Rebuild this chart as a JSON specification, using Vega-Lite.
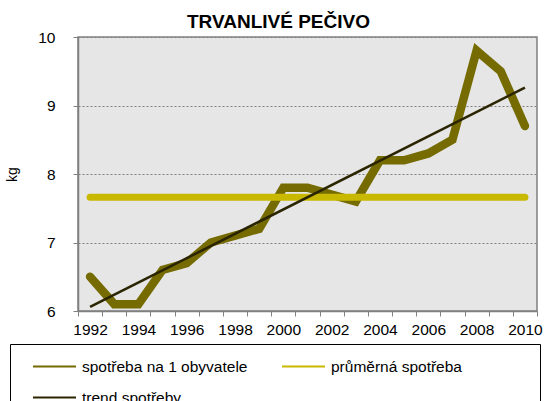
{
  "$schema": "https://vega.github.io/schema/vega-lite/v6.json",
  "width": 459,
  "height": 274,
  "autosize": {"type": "none"},
  "padding": {"left": 78, "top": 37, "right": 9, "bottom": 90},
  "background": "white",
  "config": {
    "font": "Liberation Sans",
    "view": {"fill": "#e6e6e6", "stroke": "#808080", "strokeWidth": 1.5}
  },
  "title": {
    "text": "TRVANLIVÉ PEČIVO",
    "font": "Liberation Sans",
    "fontSize": 19,
    "fontWeight": "bold",
    "color": "#000000",
    "anchor": "middle",
    "dx": -29,
    "offset": 8,
    "dy": 10
  },
  "data": {
    "values": [
      {"year": 1992, "value": 6.5, "series": "spotřeba na 1 obyvatele"},
      {"year": 1993, "value": 6.1, "series": "spotřeba na 1 obyvatele"},
      {"year": 1994, "value": 6.1, "series": "spotřeba na 1 obyvatele"},
      {"year": 1995, "value": 6.6, "series": "spotřeba na 1 obyvatele"},
      {"year": 1996, "value": 6.7, "series": "spotřeba na 1 obyvatele"},
      {"year": 1997, "value": 7.0, "series": "spotřeba na 1 obyvatele"},
      {"year": 1998, "value": 7.1, "series": "spotřeba na 1 obyvatele"},
      {"year": 1999, "value": 7.2, "series": "spotřeba na 1 obyvatele"},
      {"year": 2000, "value": 7.8, "series": "spotřeba na 1 obyvatele"},
      {"year": 2001, "value": 7.8, "series": "spotřeba na 1 obyvatele"},
      {"year": 2002, "value": 7.7, "series": "spotřeba na 1 obyvatele"},
      {"year": 2003, "value": 7.6, "series": "spotřeba na 1 obyvatele"},
      {"year": 2004, "value": 8.2, "series": "spotřeba na 1 obyvatele"},
      {"year": 2005, "value": 8.2, "series": "spotřeba na 1 obyvatele"},
      {"year": 2006, "value": 8.3, "series": "spotřeba na 1 obyvatele"},
      {"year": 2007, "value": 8.5, "series": "spotřeba na 1 obyvatele"},
      {"year": 2008, "value": 9.8, "series": "spotřeba na 1 obyvatele"},
      {"year": 2009, "value": 9.5, "series": "spotřeba na 1 obyvatele"},
      {"year": 2010, "value": 8.7, "series": "spotřeba na 1 obyvatele"},
      {"year": 1992, "value": 7.66, "series": "průměrná spotřeba"},
      {"year": 2010, "value": 7.66, "series": "průměrná spotřeba"},
      {"year": 1992, "value": 6.06, "series": "trend spotřeby"},
      {"year": 2010, "value": 9.26, "series": "trend spotřeby"}
    ]
  },
  "encoding": {
    "x": {
      "field": "year",
      "type": "ordinal",
      "scale": {"paddingInner": 0, "paddingOuter": 0},
      "axis": {
        "title": null,
        "tickBand": "extent",
        "tickSize": 5,
        "tickColor": "#808080",
        "domainColor": "#808080",
        "domainWidth": 1.5,
        "labelAngle": 0,
        "labelOverlap": false,
        "labelFont": "Liberation Sans",
        "labelFontSize": 15.5,
        "labelColor": "#000000",
        "labelPadding": 6,
        "labelExpr": "toNumber(datum.value) % 2 == 0 ? datum.label : ''",
        "grid": false
      }
    },
    "y": {
      "field": "value",
      "type": "quantitative",
      "scale": {"domain": [6, 10], "nice": false, "zero": false},
      "axis": {
        "title": "kg",
        "titleFont": "Liberation Sans",
        "titleFontSize": 14,
        "titleFontWeight": "normal",
        "titleColor": "#000000",
        "titlePadding": 18,
        "values": [6, 7, 8, 9, 10],
        "tickSize": 5,
        "tickColor": "#808080",
        "domainColor": "#808080",
        "domainWidth": 1.5,
        "labelFont": "Liberation Sans",
        "labelFontSize": 15.5,
        "labelColor": "#000000",
        "labelPadding": 18,
        "grid": true,
        "gridColor": "#808080",
        "gridDash": [2, 2],
        "gridWidth": 1
      }
    },
    "color": {
      "field": "series",
      "type": "nominal",
      "scale": {
        "domain": ["spotřeba na 1 obyvatele", "průměrná spotřeba", "trend spotřeby"],
        "range": ["#756b00", "#c9b800", "#2a2400"]
      },
      "legend": {
        "title": null,
        "orient": "none",
        "legendX": -68,
        "legendY": 307,
        "direction": "horizontal",
        "columns": 2,
        "gridAlign": "each",
        "columnPadding": 11,
        "rowPadding": -21,
        "padding": 0,
        "strokeColor": "#000000",
        "fillColor": "#ffffff",
        "symbolType": "stroke",
        "symbolSize": 1849,
        "symbolStrokeWidth": 2,
        "symbolOffset": 22,
        "labelOffset": 5,
        "labelFont": "Liberation Sans",
        "labelFontSize": 15.5,
        "labelColor": "#000000",
        "labelLimit": 400,
        "labelExpr": "datum.label == 'průměrná spotřeba' ? datum.label + '\u00a0\u00a0\u00a0\u00a0\u00a0\u00a0\u00a0\u00a0\u00a0\u00a0\u00a0\u00a0\u00a0\u00a0\u00a0\u00a0\u00a0\u00a0\u200b' : datum.label"
      }
    }
  },
  "layer": [
    {
      "transform": [{"filter": "datum.series == 'spotřeba na 1 obyvatele'"}],
      "mark": {"type": "line", "strokeWidth": 8.5, "strokeCap": "round", "strokeJoin": "miter"}
    },
    {
      "transform": [{"filter": "datum.series == 'průměrná spotřeba'"}],
      "mark": {"type": "line", "strokeWidth": 7, "strokeCap": "round"}
    },
    {
      "transform": [{"filter": "datum.series == 'trend spotřeby'"}],
      "mark": {"type": "line", "strokeWidth": 2.5, "strokeCap": "butt"}
    }
  ]
}
